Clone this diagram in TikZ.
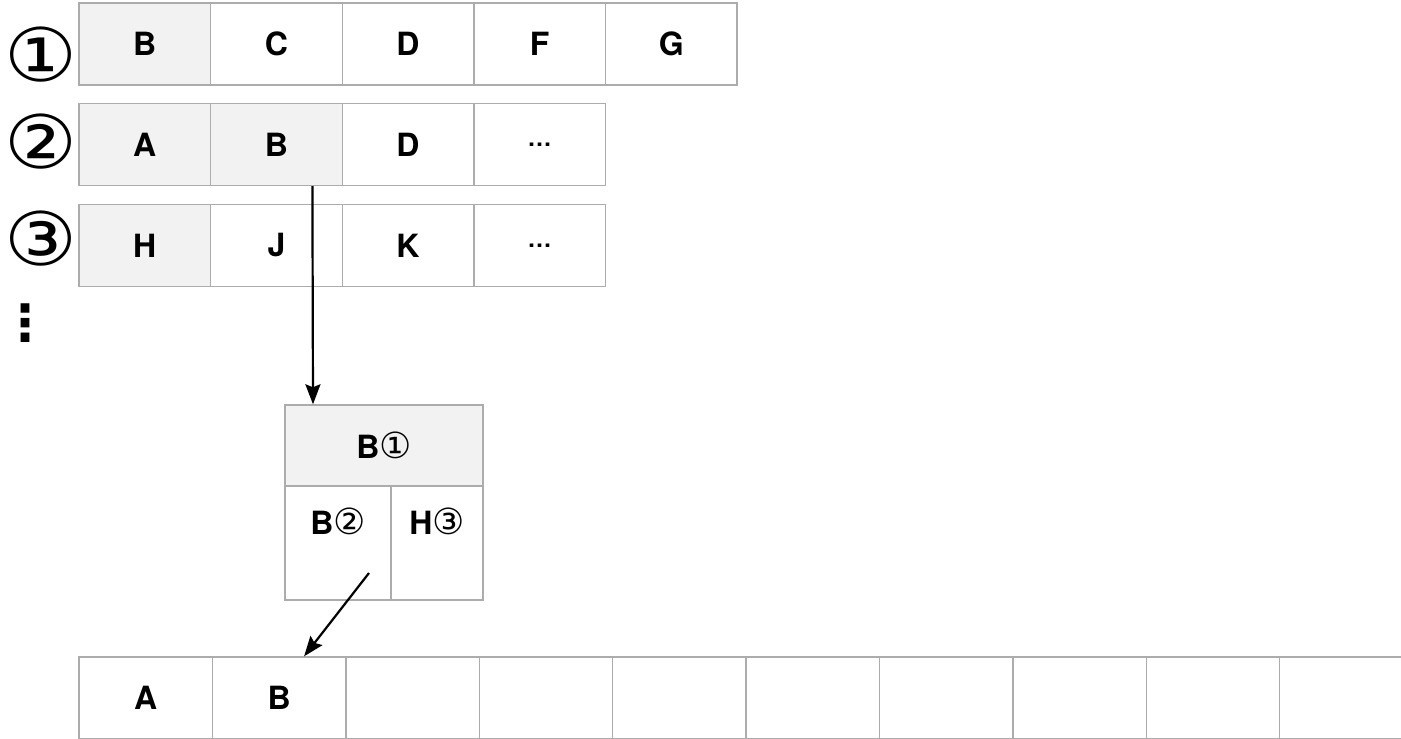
\documentclass[tikz,border=0pt]{standalone}
\usepackage{fontspec}
\setmainfont{TeX Gyre Heros}
\newfontfamily\circfont{DejaVu Sans}
\usetikzlibrary{arrows.meta,positioning}
\tikzset{
  cell/.style={rectangle, draw=gray!65, fill=white, line width=1.4pt, minimum width=131.6pt, minimum height=82pt, inner sep=0pt, font=\fontsize{32}{32}\selectfont\bfseries},
  keycell/.style={cell, fill=gray!10},
  slotcell/.style={cell, minimum width=133.4pt},
  bucketcell/.style={cell, minimum height=114pt, text depth=44pt},
  rowmark/.style={inner sep=0pt, xscale=1.1, font=\fontsize{74}{74}\selectfont\circfont},
  more/.style={font=\fontsize{24}{24}\selectfont\bfseries},
  arrow/.style={-{Stealth[length=20pt,width=15pt,inset=3pt]}, line width=2.2pt}
}
\newcommand{\cn}[1]{{\fontsize{36}{36}\selectfont\circfont\mdseries #1}}

\begin{document}
\begin{tikzpicture}[x=1pt,y=-1pt]
  \useasboundingbox (0,0) rectangle (1401,739);
  % row markers
  \node[rowmark] (m1) at (41,55) {①};
  \node[rowmark] (m2) at (41,142) {②};
  \node[rowmark] (m3) at (41,239) {③};
  \node[inner sep=0pt, font=\fontsize{50}{50}\selectfont\circfont\bfseries] (vdots) at (26,323) {⋮};
  % list 1
  \node[keycell] (r1a) at (144.8,44) {B};
  \node[cell] (r1b) at (276.4,44) {C};
  \node[cell] (r1c) at (408.0,44) {D};
  \node[cell] (r1d) at (539.6,44) {F};
  \node[cell] (r1e) at (671.2,44) {G};
  % list 2
  \node[keycell] (r2a) at (144.8,144.5) {A};
  \node[keycell] (r2b) at (276.4,144.5) {B};
  \node[cell] (r2c) at (408.0,144.5) {D};
  \node[cell, more] (r2d) at (539.6,144.5) {…};
  % list 3
  \node[keycell] (r3a) at (144.8,245.5) {H};
  \node[cell] (r3b) at (276.4,245.5) {J};
  \node[cell] (r3c) at (408.0,245.5) {K};
  \node[cell, more] (r3d) at (539.6,245.5) {…};
  % heap
  \node[keycell, minimum width=198pt, minimum height=81pt] (top) at (384,445.5) {B\cn{①}};
  \node[bucketcell, minimum width=106pt] (kid1) at (338,543) {B\cn{②}};
  \node[bucketcell, minimum width=92pt] (kid2) at (437,543) {H\cn{③}};
  % output
  \node[slotcell] (o1) at (145.7,698) {A};
  \node[slotcell] (o2) at (279.1,698) {B};
  \foreach \i/\x in {3/412.5,4/545.9,5/679.3,6/812.7,7/946.1,8/1079.5,9/1212.9,10/1346.3}
    \node[slotcell] (o\i) at (\x,698) {};
  \draw[arrow] ([xshift=36pt]r2b.south) -- ([xshift=-71pt]top.north);
  \draw[arrow] ([xshift=31pt,yshift=-30pt]kid1.center) -- ([xshift=25pt]o2.north);
\end{tikzpicture}
\end{document}
